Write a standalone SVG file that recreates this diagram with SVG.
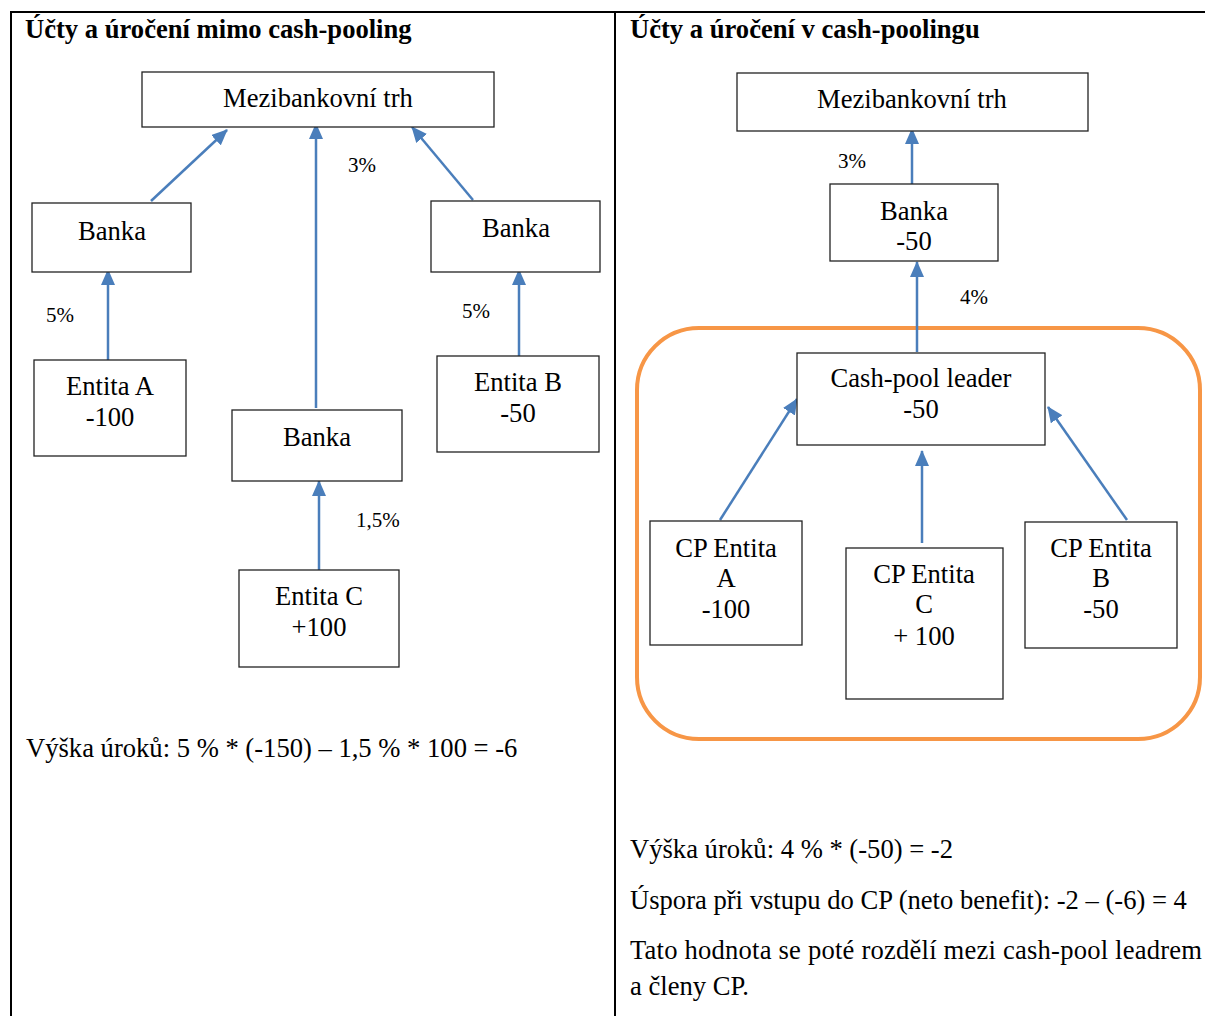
<svg xmlns="http://www.w3.org/2000/svg" width="1205" height="1016" viewBox="0 0 1205 1016" font-family="'Liberation Serif', 'DejaVu Serif', serif">
<style>
text{font-family:'Liberation Serif','DejaVu Serif',serif;fill:#000}
.t{font-size:26.6px}
.c{font-size:26.6px;text-anchor:middle}
.p{font-size:21px}
.h{font-size:26.6px;font-weight:bold}
.box{fill:#fff;stroke:#222;stroke-width:1.3}
.arr{stroke:#4A7EBB;stroke-width:2.5;fill:none;marker-end:url(#ah)}
.grid{stroke:#000;stroke-width:2;fill:none}
</style>
<defs>
<marker id="ah" markerUnits="userSpaceOnUse" markerWidth="16" markerHeight="14" refX="15" refY="7" orient="auto" viewBox="0 0 16 14">
<path d="M0,0 L16,7 L0,14 z" fill="#4A7EBB"/>
</marker>
</defs>
<rect width="1205" height="1016" fill="#fff"/>
<g id="table">
<line class="grid" x1="10" y1="12" x2="1205" y2="12"/>
<line class="grid" x1="11" y1="11" x2="11" y2="1016"/>
<line class="grid" x1="615" y1="11" x2="615" y2="1016"/>
</g>
<text class="h" x="25" y="38">Účty a úročení mimo cash-pooling</text>
<text class="h" x="630" y="38">Účty a úročení v cash-poolingu</text>

<g id="pool">
<rect x="637" y="328" width="563" height="411" rx="62" ry="62" fill="none" stroke="#F79646" stroke-width="4"/>
</g>

<g id="connectors">
<line class="arr" x1="151" y1="201" x2="227" y2="130"/>
<line class="arr" x1="316" y1="408" x2="316" y2="124"/>
<line class="arr" x1="473" y1="200" x2="412" y2="127"/>
<line class="arr" x1="108" y1="360" x2="108" y2="270"/>
<line class="arr" x1="319" y1="570" x2="319" y2="481"/>
<line class="arr" x1="519" y1="356" x2="519" y2="270"/>
<line class="arr" x1="912" y1="184" x2="912" y2="129"/>
<line class="arr" x1="917" y1="352" x2="917" y2="262"/>
<line class="arr" x1="720" y1="520" x2="797" y2="399"/>
<line class="arr" x1="922" y1="543" x2="922" y2="451"/>
<line class="arr" x1="1127" y1="520" x2="1048" y2="407"/>
</g>

<g id="labels">
<text class="p" x="348" y="172">3%</text>
<text class="p" x="46" y="322">5%</text>
<text class="p" x="462" y="318">5%</text>
<text class="p" x="356" y="527">1,5%</text>
<text class="p" x="838" y="168">3%</text>
<text class="p" x="960" y="304">4%</text>
</g>

<g id="n-mezi-left"><rect class="box" x="142" y="72" width="352" height="55"/><text class="c" x="318" y="107">Mezibankovní trh</text></g>
<g id="n-banka-a"><rect class="box" x="32" y="203" width="159" height="69"/><text class="c" x="112" y="240">Banka</text></g>
<g id="n-entita-a"><rect class="box" x="34" y="360" width="152" height="96"/><text class="c" x="110" y="395">Entita A</text><text class="c" x="110" y="426">-100</text></g>
<g id="n-banka-c"><rect class="box" x="232" y="410" width="170" height="71"/><text class="c" x="317" y="446">Banka</text></g>
<g id="n-entita-c"><rect class="box" x="239" y="570" width="160" height="97"/><text class="c" x="319" y="605">Entita C</text><text class="c" x="319" y="636">+100</text></g>
<g id="n-banka-b"><rect class="box" x="431" y="201" width="169" height="71"/><text class="c" x="516" y="237">Banka</text></g>
<g id="n-entita-b"><rect class="box" x="437" y="356" width="162" height="96"/><text class="c" x="518" y="391">Entita B</text><text class="c" x="518" y="422">-50</text></g>

<g id="n-mezi-right"><rect class="box" x="737" y="73" width="351" height="58"/><text class="c" x="912" y="108">Mezibankovní trh</text></g>
<g id="n-banka-r"><rect class="box" x="830" y="184" width="168" height="77"/><text class="c" x="914" y="220">Banka</text><text class="c" x="914" y="250">-50</text></g>
<g id="n-leader"><rect class="box" x="797" y="353" width="248" height="92"/><text class="c" x="921" y="387">Cash-pool leader</text><text class="c" x="921" y="418">-50</text></g>
<g id="n-cp-a"><rect class="box" x="650" y="521" width="152" height="124"/><text class="c" x="726" y="557">CP Entita</text><text class="c" x="726" y="587">A</text><text class="c" x="726" y="618">-100</text></g>
<g id="n-cp-c"><rect class="box" x="846" y="548" width="157" height="151"/><text class="c" x="924" y="583">CP Entita</text><text class="c" x="924" y="613">C</text><text class="c" x="924" y="645">+ 100</text></g>
<g id="n-cp-b"><rect class="box" x="1025" y="522" width="152" height="126"/><text class="c" x="1101" y="557">CP Entita</text><text class="c" x="1101" y="587">B</text><text class="c" x="1101" y="618">-50</text></g>

<g id="notes">
<text class="t" x="26" y="757">Výška úroků: 5 % * (-150) – 1,5 %  * 100 = -6</text>
<text class="t" x="630" y="858">Výška úroků: 4 % * (-50) = -2</text>
<text class="t" x="630" y="909">Úspora při vstupu do CP (neto benefit): -2 – (-6) = 4</text>
<text class="t" x="630" y="959" textLength="572" lengthAdjust="spacing">Tato hodnota se poté rozdělí mezi cash-pool leadrem</text>
<text class="t" x="630" y="995">a členy CP.</text>
</g>
</svg>
